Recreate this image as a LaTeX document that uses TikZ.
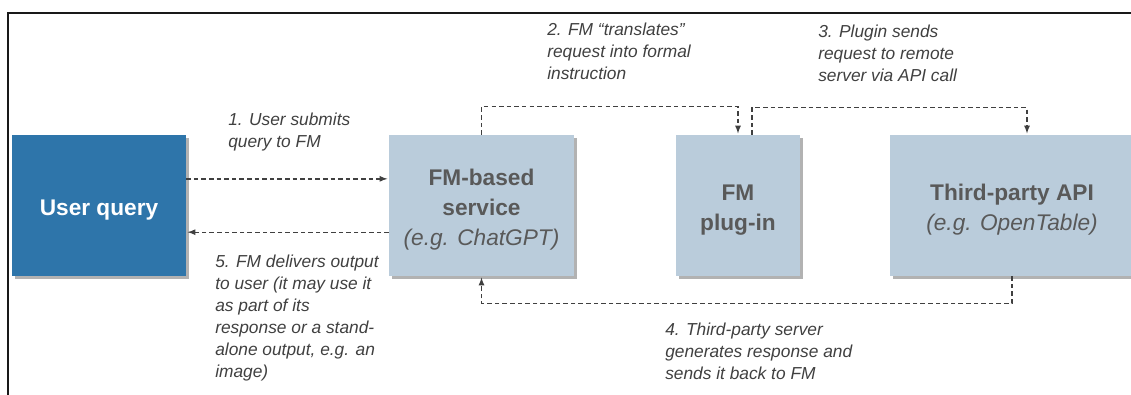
\documentclass[tikz,border=0pt]{standalone}
\usepackage{fontspec}
\setmainfont{Liberation Sans}
\usepackage{tikz}
\usepackage{color}
\usetikzlibrary{arrows,shadows}
\definecolor{qblue}{HTML}{2E75AA}
\definecolor{sblue}{HTML}{BACCDB}
\definecolor{tgray}{HTML}{595959}
\definecolor{lgray}{HTML}{404040}
\newcommand{\tstrut}{\rule{0pt}{18.5pt}}

\begin{document}
\begin{tikzpicture}[x=0.75pt,y=-0.75pt,
	box/.style={rectangle,fill=sblue,text=tgray,align=center,minimum height=105.75pt,inner sep=2pt,font=\fontsize{17}{22.5}\selectfont\bfseries,drop shadow={shadow xshift=2pt,shadow yshift=-2pt,fill=black,opacity=.3}},
	link/.style={-latex,draw=lgray,line width=1pt,dash pattern=on 3.4pt off 2.3pt,shorten >=1pt},
	note/.style={anchor=north west,inner sep=0pt,align=left,text=lgray,font=\fontsize{13}{16.5}\selectfont\itshape}]
	\useasboundingbox (0,0) rectangle (1131,394);
	\draw[line width=1.5pt,black!90] (8,12.5) rectangle (1150,410);
	
	\node[box,fill=qblue,text=white,minimum width=130.5pt] (uq) at (99,205.5) {\tstrut User query};
	\node[box,minimum width=138.75pt] (fm) at (481.5,205.5) {\tstrut FM-based\\service\\{\mdseries\itshape (e.g. ChatGPT)}};
	\node[box,minimum width=93pt] (pl) at (738,205.5) {\tstrut FM\\plug-in};
	\node[box,minimum width=183pt] (api) at (1012,205.5) {\tstrut Third-party API\\{\mdseries\itshape (e.g. OpenTable)}};
	
	\draw[link] ([yshift=20pt]uq.east) -- ([yshift=20pt]fm.west);
	\draw[link] ([yshift=-20pt]fm.west) -- ([yshift=-20pt]uq.east);
	\draw[link] (fm.north) -- ++(0,-28) -| (pl.north);
	\draw[link] ([xshift=10.5pt]pl.north) -- ++(0,-27) -| ([xshift=11.25pt]api.north);
	\draw[link] (api.south) -- ++(0,27) -| (fm.south);
	
	\node[note] (t1) at (228,112.3) {1. User submits\\query to FM};
	\node[note] (t2) at (547,22.3) {2. FM “translates”\\request into formal\\instruction};
	\node[note] (t3) at (818,24.3) {3. Plugin sends\\request to remote\\server via API call};
	\node[note] (t4) at (665,322.3) {4. Third-party server\\generates response and\\sends it back to FM};
	\node[note] (t5) at (215,254.3) {5. FM delivers output\\to user (it may use it\\as part of its\\response or a stand-\\alone output, e.g. an\\image)};
	
\end{tikzpicture}
\end{document}
